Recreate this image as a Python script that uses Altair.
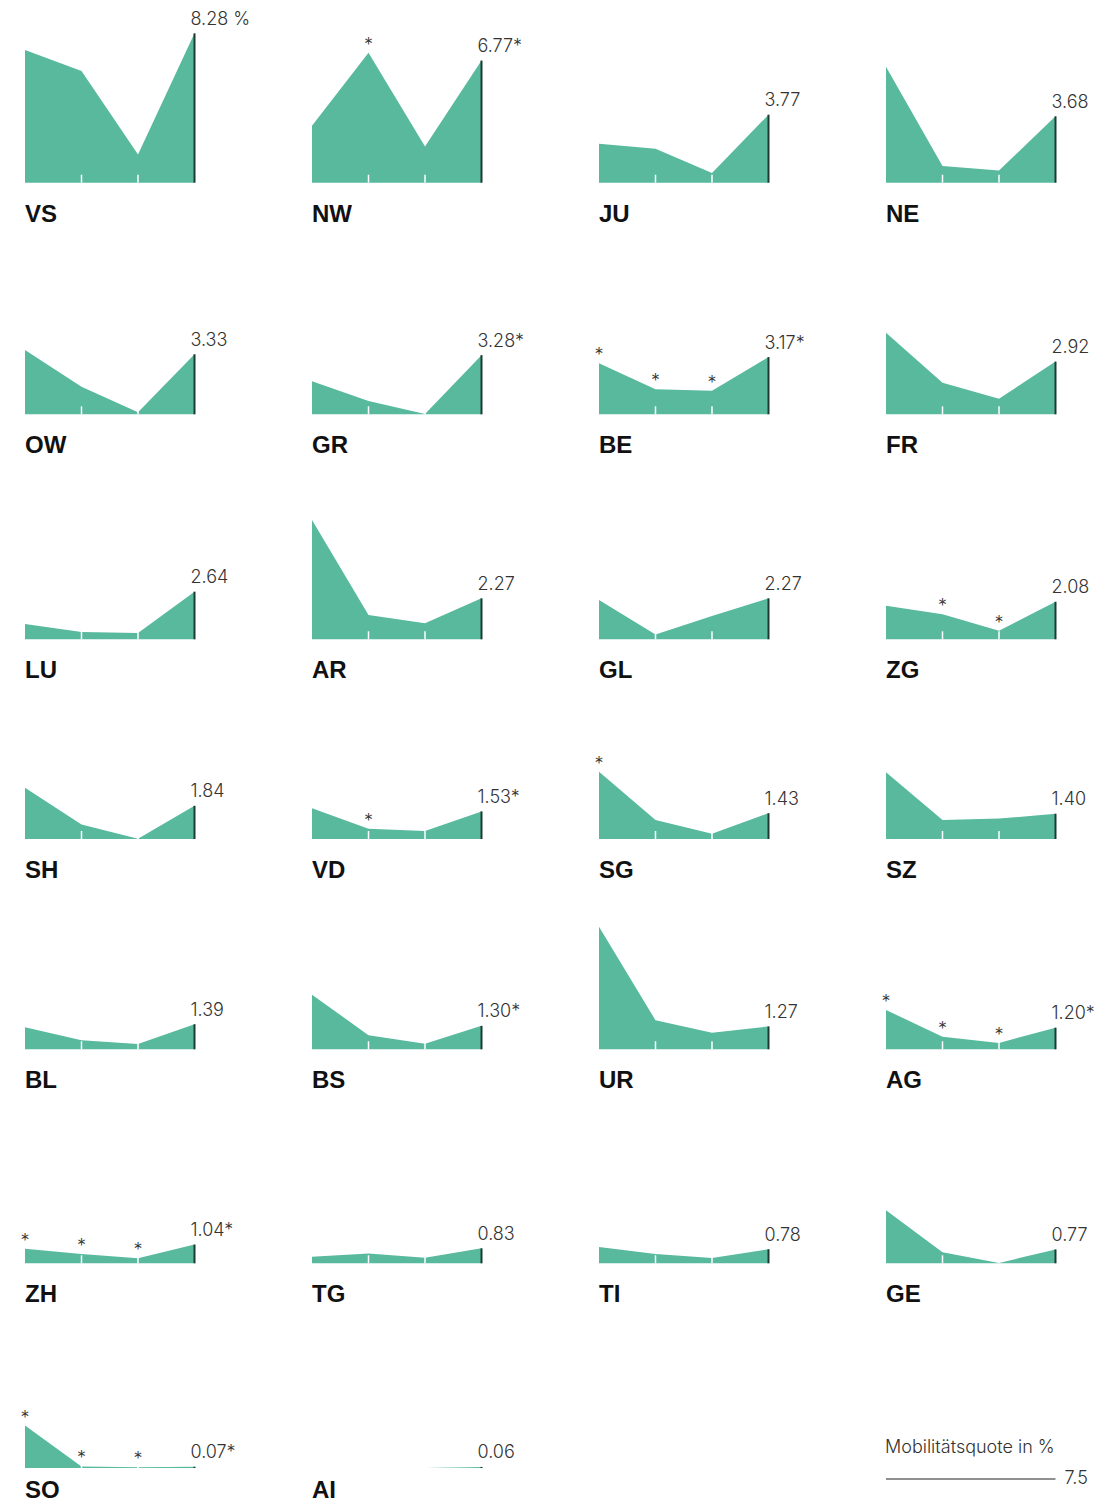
import altair as alt
import pandas as pd

# ---------------- data ----------------
CANTONS = ["VS", "NW", "JU", "NE", "OW", "GR", "BE", "FR", "LU", "AR", "GL", "ZG",
           "SH", "VD", "SG", "SZ", "BL", "BS", "UR", "AG", "ZH", "TG", "TI", "GE",
           "SO", "AI"]
P1 = [7.36, 3.16, 2.16, 6.43, 3.56, 1.83, 2.83, 4.52, 0.85, 6.61, 2.18, 1.86,
      2.84, 1.70, 3.73, 3.70, 1.22, 3.03, 6.80, 2.18, 0.81, 0.37, 0.90, 2.94,
      2.35, 0.00]
P2 = [6.19, 7.21, 1.88, 0.93, 1.53, 0.74, 1.39, 1.75, 0.40, 1.35, 0.26, 1.39,
      0.81, 0.57, 1.05, 1.05, 0.50, 0.78, 1.61, 0.70, 0.52, 0.55, 0.52, 0.61,
      0.09, 0.00]
P3 = [1.57, 2.00, 0.54, 0.67, 0.11, 0.02, 1.31, 0.86, 0.35, 0.89, 1.29, 0.48,
      0.02, 0.44, 0.29, 1.13, 0.29, 0.31, 0.92, 0.35, 0.28, 0.31, 0.29, 0.02,
      0.04, 0.00]
P4 = [8.28, 6.77, 3.77, 3.68, 3.33, 3.28, 3.17, 2.92, 2.64, 2.27, 2.27, 2.08,
      1.84, 1.53, 1.43, 1.40, 1.39, 1.30, 1.27, 1.20, 1.04, 0.83, 0.78, 0.77,
      0.07, 0.06]
# asterisk flags per point
S1 = [0, 0, 0, 0, 0, 0, 1, 0, 0, 0, 0, 0, 0, 0, 1, 0, 0, 0, 0, 1, 1, 0, 0, 0, 1, 0]
S2 = [0, 1, 0, 0, 0, 0, 1, 0, 0, 0, 0, 1, 0, 1, 0, 0, 0, 0, 0, 1, 1, 0, 0, 0, 1, 0]
S3 = [0, 0, 0, 0, 0, 0, 1, 0, 0, 0, 0, 1, 0, 0, 0, 0, 0, 0, 0, 1, 1, 0, 0, 0, 1, 0]
S4 = [0, 1, 0, 0, 0, 1, 1, 0, 0, 0, 0, 0, 0, 1, 0, 0, 0, 1, 0, 1, 1, 0, 0, 0, 1, 0]
UNIT = "%"
LEGEND_TITLE = "Mobilitätsquote in %"
LEGEND_VALUE = "7.5"

# ---------------- style / layout ----------------
GREEN = "#58b99d"
DARK = "#1d3a32"
TXT = "#333333"
NUM_FONT = "Inter"
NAME_FONT = "Liberation Sans"
NUM_SIZE = 18
K = 18.04                       # pixels per percentage point
STEP = 56.5                     # pixels per period step
LEFT = 17                       # left inset of first point inside a cell
COL_W = [287, 287, 287, 237]
ROW_H = [225, 231, 225, 200, 210, 214, 190]
ROW_ABOVE = [174.7, 181.3, 175.3, 150, 160.3, 164.3, 155]
NAME_DY = [39, 39, 39, 39, 39, 39, 30]
TICK_PX = 8

rows = []
for i, c in enumerate(CANTONS):
    vals = [P1[i], P2[i], P3[i], P4[i]]
    stars = [S1[i], S2[i], S3[i], S4[i]]
    for t in range(4):
        lab = ""
        if t == 3:
            lab = f"{vals[t]:.2f}" + ("*" if stars[t] else "") + (f" {UNIT}" if i == 0 else "")
        rows.append({"canton": c, "t": t, "value": vals[t], "zero": 0.0,
                     "tick": TICK_PX / K, "star": stars[t], "label": lab})
df = pd.DataFrame(rows)


def xs(w):
    return alt.Scale(domain=[-LEFT / STEP, (w - LEFT) / STEP], nice=False, zero=False)


def ys(h, above):
    return alt.Scale(domain=[-(h - above) / K, above / K], nice=False, zero=False)


def cell(c, w, h, above, name_dy):
    d = df[df.canton == c]
    x = alt.X("t:Q", scale=xs(w), axis=None)
    y = alt.Y("value:Q", scale=ys(h, above), axis=None)
    y0 = alt.Y("zero:Q", scale=ys(h, above), axis=None)
    base = alt.Chart(d)
    area = base.mark_area(color=GREEN, interpolate="linear").encode(
        x=x, y=y, y2="zero:Q")
    ticks = base.transform_filter("datum.t > 0 && datum.t < 3").mark_rule(
        color="white", strokeWidth=1.5).encode(x=x, y=y0, y2="tick:Q")
    rule = base.transform_filter("datum.t == 3").mark_rule(
        color=DARK, strokeWidth=2).encode(x=x, y=y, y2="zero:Q")
    stars = base.transform_filter("datum.t < 3 && datum.star == 1").mark_text(
        text="*", align="center", baseline="alphabetic", dy=-2,
        font=NUM_FONT, fontSize=NUM_SIZE, fontWeight=300, color=TXT).encode(x=x, y=y)
    value = base.transform_filter("datum.t == 3").mark_text(
        align="left", baseline="alphabetic", dx=-4, dy=-8.5,
        font=NUM_FONT, fontSize=NUM_SIZE, fontWeight=300, color=TXT).encode(
        x=x, y=y, text="label:N")
    name = base.transform_filter("datum.t == 0").mark_text(
        align="left", baseline="alphabetic", dy=name_dy,
        font=NAME_FONT, fontSize=24, fontWeight="bold", color="#111111").encode(
        x=x, y=y0, text="canton:N")
    return alt.layer(area, ticks, rule, stars, value, name).properties(width=w, height=h)


LEG = pd.DataFrame({"t0": [0], "t1": [3], "lv": [-11 / K], "tv": [15 / K],
                    "title": [LEGEND_TITLE], "val": [LEGEND_VALUE], "blank": [""]})


def blank(w, h, above):
    return alt.Chart(LEG).mark_text().encode(
        x=alt.X("t0:Q", scale=xs(w), axis=None),
        y=alt.Y("lv:Q", scale=ys(h, above), axis=None),
        text="blank:N").properties(width=w, height=h)


def legend(w, h, above):
    one = alt.Chart(LEG)
    x0 = alt.X("t0:Q", scale=xs(w), axis=None)
    x1 = alt.X("t1:Q", scale=xs(w), axis=None)
    yl = alt.Y("lv:Q", scale=ys(h, above), axis=None)
    yt = alt.Y("tv:Q", scale=ys(h, above), axis=None)
    title = one.mark_text(align="left", baseline="alphabetic", dx=-1,
                          font=NUM_FONT, fontSize=NUM_SIZE, fontWeight=300, color=TXT).encode(
        x=x0, y=yt, text="title:N")
    line = one.mark_rule(color="#222222", strokeWidth=1.2).encode(
        x=x0, x2="t1:Q", y=yl)
    val = one.mark_text(align="left", baseline="middle", dx=9,
                        font=NUM_FONT, fontSize=NUM_SIZE, fontWeight=300, color=TXT).encode(
        x=x1, y=yl, text="val:N")
    return alt.layer(title, line, val).properties(width=w, height=h)


row_charts = []
for r in range(7):
    cells = []
    for j in range(4):
        k = r * 4 + j
        if k < len(CANTONS):
            cells.append(cell(CANTONS[k], COL_W[j], ROW_H[r], ROW_ABOVE[r], NAME_DY[r]))
        elif j == 3:
            cells.append(legend(COL_W[j], ROW_H[r], ROW_ABOVE[r]))
        else:
            cells.append(blank(COL_W[j], ROW_H[r], ROW_ABOVE[r]))
    row_charts.append(alt.hconcat(*cells, spacing=0))

chart = alt.vconcat(*row_charts, spacing=0).properties(padding=0).configure_view(
    stroke=None)

chart.save("out.html", embed_options={"renderer": "svg", "actions": False})
